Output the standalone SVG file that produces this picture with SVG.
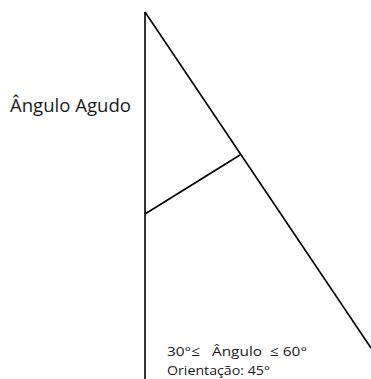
<svg xmlns="http://www.w3.org/2000/svg" width="371" height="379" viewBox="0 0 371 379">
<style>
.ln{stroke:#000;stroke-width:1.6;fill:none}
.t{font-family:"Open Sans","Liberation Sans",sans-serif;fill:#1a1a1a}
</style>
<rect width="371" height="379" fill="#fff"/>
<g id="connectors">
<line class="ln" x1="145" y1="12" x2="145" y2="379" stroke="#444"/>
<line class="ln" x1="145" y1="12" x2="371" y2="348"/>
<line class="ln" x1="240" y1="155" x2="145" y2="214"/>
</g>
<g id="label-title"><text class="t" x="10" y="112" font-size="18" textLength="121" lengthAdjust="spacingAndGlyphs">Ângulo Agudo</text></g>
<g id="label-range"><text class="t" x="167" y="356" font-size="13.5" xml:space="preserve" textLength="140" lengthAdjust="spacingAndGlyphs">30°≤   Ângulo  ≤ 60°</text></g>
<g id="label-orient"><text class="t" x="167" y="375" font-size="13.5" textLength="103" lengthAdjust="spacingAndGlyphs">Orientação: 45°</text></g>
</svg>
